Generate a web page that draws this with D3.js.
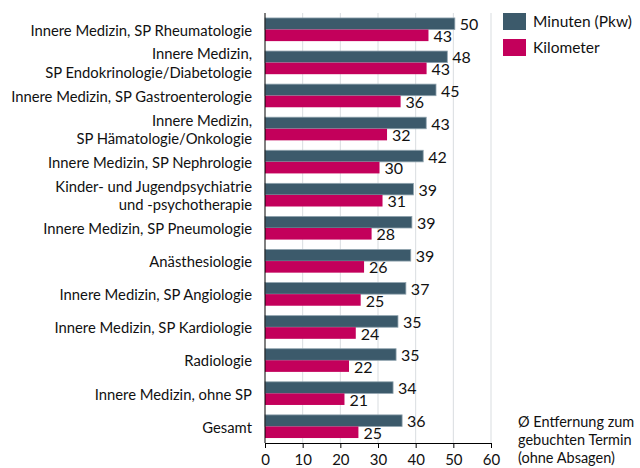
<!DOCTYPE html>
<html>
<head>
<meta charset="utf-8">
<script src="https://cdn.jsdelivr.net/npm/d3@7"></script>
<style>
  body { margin: 0; background: #fff; }
  text { font-family: Lato, "Open Sans", sans-serif; fill: #111; }
</style>
</head>
<body>
<div id="chart"></div>
<script>
var width = 640,
    height = 468;

// Fachgruppen, top to bottom (multi-line labels split with |)
var categories = [
    'Innere Medizin, SP Rheumatologie',
    'Innere Medizin,|SP Endokrinologie/Diabetologie',
    'Innere Medizin, SP Gastroenterologie',
    'Innere Medizin,|SP Hämatologie/Onkologie',
    'Innere Medizin, SP Nephrologie',
    'Kinder- und Jugendpsychiatrie|und -psychotherapie',
    'Innere Medizin, SP Pneumologie',
    'Anästhesiologie',
    'Innere Medizin, SP Angiologie',
    'Innere Medizin, SP Kardiologie',
    'Radiologie',
    'Innere Medizin, ohne SP',
    'Gesamt'
];

var minuten = [50.4, 48.4, 45.4, 42.8, 42.0, 39.4, 39.0, 38.7, 37.4, 35.3, 34.8, 34.0, 36.4];
var kilometer = [43.4, 42.9, 36.0, 32.4, 30.4, 31.2, 28.3, 26.3, 25.4, 24.1, 22.3, 21.1, 24.8];

var seriesNames = ['Minuten (Pkw)', 'Kilometer'];
var seriesColors = ['#3c5a6b', '#c3005b'];
var xTicks = [0, 10, 20, 30, 40, 50, 60];
var note = ['Ø Entfernung zum', 'gebuchten Termin', '(ohne Absagen)'];

var margin = {left: 265, top: 13, right: 149, bottom: 25};

var svg = d3.select('#chart')
    .append('svg')
    .attr('width', width)
    .attr('height', height);

var x = d3.scaleLinear()
    .domain([0, 60])
    .range([margin.left, width - margin.right]);

var y = d3.scaleBand()
    .domain(categories)
    .range([margin.top, height - margin.bottom])
    .paddingInner(0.3)
    .paddingOuter(0.15);

var sub = d3.scaleBand()
    .domain([0, 1])
    .range([0, y.bandwidth()]);

// gridlines
svg.selectAll('line.grid')
    .data(xTicks.slice(1))
    .enter()
    .append('line')
    .attr('class', 'grid')
    .attr('x1', d => x(d))
    .attr('x2', d => x(d))
    .attr('y1', margin.top)
    .attr('y2', height - margin.bottom)
    .attr('stroke', '#d9dde0')
    .attr('stroke-width', 1);

var rows = categories.map((c, i) => ({cat: c, vals: [minuten[i], kilometer[i]]}));

var group = svg.selectAll('g.row')
    .data(rows)
    .enter()
    .append('g')
    .attr('class', 'row')
    .attr('transform', d => 'translate(0,' + y(d.cat) + ')');

group.selectAll('rect')
    .data(d => d.vals)
    .enter()
    .append('rect')
    .attr('x', x(0))
    .attr('y', (d, j) => sub(j))
    .attr('width', d => x(d) - x(0))
    .attr('height', sub.bandwidth())
    .attr('fill', (d, j) => seriesColors[j])
    .attr('stroke', (d, j) => j === 0 ? '#8fa3ae' : 'none')
    .attr('stroke-width', 0.8);

group.selectAll('text.val')
    .data(d => d.vals)
    .enter()
    .append('text')
    .attr('class', 'val')
    .attr('x', d => x(d) + 5)
    .attr('y', (d, j) => sub(j) + sub.bandwidth() / 2 + 1)
    .attr('dy', '0.35em')
    .style('font-size', '16px')
    .text(d => Math.round(d));

// category labels
var labels = svg.selectAll('text.cat')
    .data(categories)
    .enter()
    .append('text')
    .attr('class', 'cat')
    .attr('text-anchor', 'end')
    .attr('x', margin.left - 13)
    .attr('y', d => y(d) + y.bandwidth() / 2 + 1)
    .style('font-size', '14.8px');

labels.each(function(d) {
    var parts = d.split('|');
    var t = d3.select(this);
    parts.forEach((p, k) => {
        t.append('tspan')
            .attr('x', margin.left - 13)
            .attr('dy', k === 0 ? (0.35 - (parts.length - 1) * 0.63) + 'em' : '1.26em')
            .text(p);
    });
});

// axes
var xAxis = svg.append('g')
    .attr('transform', 'translate(0,' + (height - margin.bottom) + ')')
    .call(d3.axisBottom(x).tickValues(xTicks).tickSize(5).tickPadding(6));
xAxis.select('.domain').attr('stroke', '#000');
xAxis.selectAll('.tick line').attr('stroke', '#000');
xAxis.selectAll('.tick text')
    .style('font-size', '15px')
    .style('font-family', 'Lato, sans-serif')
    .attr('fill', '#111');

svg.append('line')
    .attr('x1', x(0))
    .attr('x2', x(0))
    .attr('y1', margin.top)
    .attr('y2', height - margin.bottom)
    .attr('stroke', '#000');

// legend
var legend = svg.selectAll('g.legend')
    .data(seriesNames)
    .enter()
    .append('g')
    .attr('class', 'legend')
    .attr('transform', (d, i) => 'translate(503,' + (13 + i * 26) + ')');

legend.append('rect')
    .attr('width', 23)
    .attr('height', 17)
    .attr('fill', (d, i) => seriesColors[i]);

legend.append('text')
    .attr('x', 30)
    .attr('y', 9)
    .attr('dy', '0.35em')
    .style('font-size', '15.5px')
    .text(d => d);

// note
svg.append('text')
    .style('font-size', '14.5px')
    .selectAll('tspan')
    .data(note)
    .enter()
    .append('tspan')
    .attr('x', 518)
    .attr('y', (d, i) => 422 + i * 18)
    .attr('dy', '0.35em')
    .text(d => d);
</script>
</body>
</html>
